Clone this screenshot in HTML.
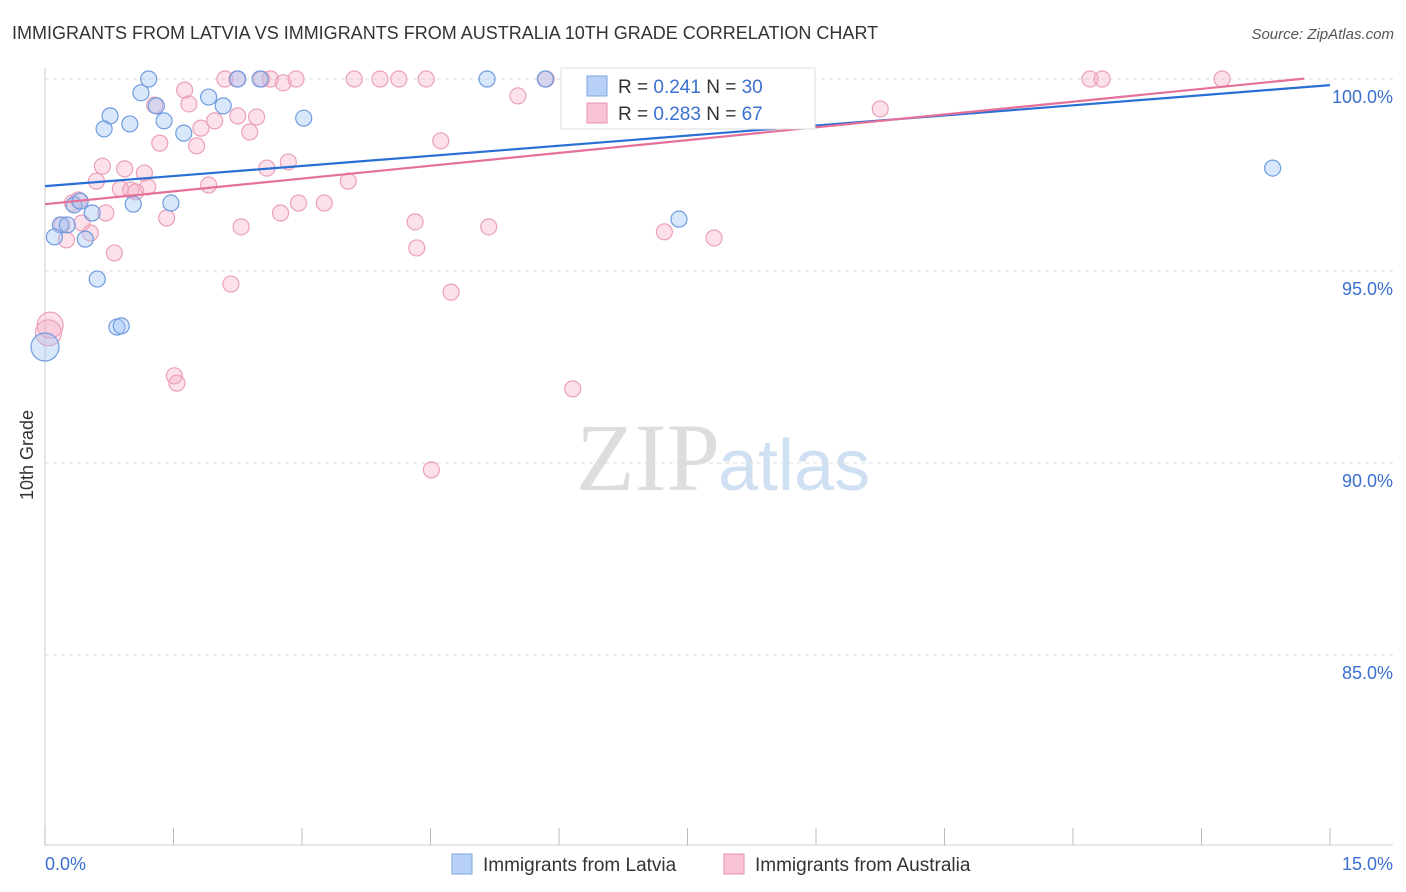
<!DOCTYPE html>
<html><head><meta charset="utf-8">
<style>
body{margin:0;background:#fff;font-family:"Liberation Sans",sans-serif;}
#wrap{position:relative;width:1406px;height:892px;overflow:hidden;}
</style></head>
<body>
<div id="wrap">
<svg id="svg" width="1406" height="892" xmlns="http://www.w3.org/2000/svg">
<text x="12" y="39" font-size="18" fill="#333">IMMIGRANTS FROM LATVIA VS IMMIGRANTS FROM AUSTRALIA 10TH GRADE CORRELATION CHART</text>
<text x="1394" y="39" font-size="15" fill="#555" text-anchor="end" font-style="italic">Source: ZipAtlas.com</text>
<text x="720" y="490" font-size="96" fill="#ddd" text-anchor="end" font-family="Liberation Serif">ZIP</text>
<text x="718" y="490" font-size="72" fill="#cfe0f3">atlas</text>
<text transform="translate(33,455) rotate(-90)" font-size="18" fill="#333" text-anchor="middle">10th Grade</text>
<g id="grid"></g><g id="pts"></g><g id="lines"></g>
<g>
<rect x="561" y="68" width="254" height="61" fill="#fff" stroke="#ddd"/>
<rect x="587" y="76" width="20" height="20" fill="#b8d0f5" stroke="#7ea6e0"/>
<text x="618" y="93" font-size="19" fill="#333">R = <tspan fill="#3b6fd0">0.241</tspan>   N = <tspan fill="#3b6fd0">30</tspan></text>
<rect x="587" y="103" width="20" height="20" fill="#f8c4d4" stroke="#e890ac"/>
<text x="618" y="120" font-size="19" fill="#333">R = <tspan fill="#3b6fd0">0.283</tspan>   N = <tspan fill="#3b6fd0">67</tspan></text>
</g>
<g>
<rect x="452" y="854" width="20" height="20" fill="#b8d0f5" stroke="#7ea6e0"/>
<text x="483" y="871" font-size="19" fill="#333">Immigrants from Latvia</text>
<rect x="724" y="854" width="20" height="20" fill="#f8c4d4" stroke="#e890ac"/>
<text x="755" y="871" font-size="19" fill="#333">Immigrants from Australia</text>
</g>
<text x="45" y="870" font-size="18" fill="#3b6fd0">0.0%</text>
<text x="1393" y="870" font-size="18" fill="#3b6fd0" text-anchor="end">15.0%</text>
</svg>
</div>
<script>
const yTicks=[100,95,90,85];
const yTickLabels=["100.0%","95.0%","90.0%","85.0%"];
const latviaX=[1.21,2.25,2.51,5.16,5.84,1.12,0.76,1.91,1.30,2.08,0.69,0.99,1.39,1.62,3.02,14.33,0.34,0.41,0.55,1.03,1.47,0.18,0.26,0.11,0.47,0.61,0.84,0.89,0,7.40];
const latviaY=[100,100,100,100,100,99.64,99.04,99.53,99.30,99.30,98.70,98.83,98.91,98.59,98.98,97.68,96.72,96.82,96.51,96.74,96.77,96.20,96.20,95.89,95.83,94.79,93.54,93.57,93.02,96.35];
const ausX=[2.10,2.24,2.53,2.63,2.78,2.93,3.61,3.91,4.13,4.45,5.85,6.25,12.20,12.34,13.74,1.63,1.68,1.28,5.52,2.47,2.25,1.98,1.82,2.39,1.34,1.77,4.62,9.75,6.88,0.67,0.93,1.16,2.59,2.84,0.60,3.54,1.91,0.88,1.20,1.00,1.06,0.39,0.32,0.71,2.96,3.26,2.75,1.42,4.32,0.53,0.25,2.29,5.18,7.23,7.81,4.34,0.81,2.17,4.74,0.06,0.04,1.51,1.54,6.16,4.51,0.20,0.43];
const ausY=[100,100,100,100,99.90,100,100,100,100,100,100,100,100,100,100,99.71,99.35,99.32,99.56,99.01,99.04,98.91,98.72,98.62,98.33,98.26,98.39,99.22,99.51,97.73,97.66,97.55,97.68,97.84,97.34,97.34,97.24,97.14,97.19,97.11,97.06,96.85,96.77,96.51,96.77,96.77,96.51,96.38,96.28,95.99,95.81,96.15,96.15,96.02,95.86,95.60,95.47,94.66,94.45,93.59,93.39,92.27,92.08,91.93,89.82,96.20,96.25];
const latviaTrend=[[0,97.21],[15,99.84]];
const ausTrend=[[0,96.74],[14.7,100.01]];
const NS="http://www.w3.org/2000/svg";
const sx=v=>45+v*85.667, sy=v=>79+(100-v)*38.4;
function mk(tag,attrs,parent){const e=document.createElementNS(NS,tag);for(const k in attrs)e.setAttribute(k,attrs[k]);parent.appendChild(e);return e;}
const grid=document.getElementById('grid');
yTicks.forEach((t,i)=>{
 const l=mk('line',{x1:45,x2:1393,y1:sy(t),y2:sy(t),stroke:'#ddd','stroke-dasharray':'4,4'},grid);
 
 
 const tx=mk('text',{x:1393,y:sy(t)+24,'font-size':18,fill:'#3b6fd0','text-anchor':'end'},grid);
 tx.textContent=yTickLabels[i];
 
 
});
mk('line',{x1:45,x2:45,y1:68,y2:845,stroke:'#ccc'},grid);
mk('line',{x1:45,x2:1393,y1:845,y2:845,stroke:'#ccc'},grid);
for(let i=0;i<=10;i++){const x=sx(i*1.5);const t=mk('line',{x1:x,x2:x,y1:828,y2:845,stroke:'#bbb'},grid);}
const pts=document.getElementById('pts');
ausX.forEach((x,i)=>{const big=x<0.1&&ausY[i]<94;
 const c=mk('circle',{cx:sx(x),cy:sy(ausY[i]),r:big?13:8,fill:'rgba(246,170,195,0.35)',stroke:'#eba0b8','stroke-width':1.2},pts);
 
 });
latviaX.forEach((x,i)=>{const big=x===0;
 const c=mk('circle',{cx:sx(x),cy:sy(latviaY[i]),r:big?14:8,fill:'rgba(160,195,245,0.4)',stroke:'#6f9be0','stroke-width':1.2},pts);
 
 });
const lines=document.getElementById('lines');
const bl=mk('line',{x1:sx(latviaTrend[0][0]),y1:sy(latviaTrend[0][1]),x2:sx(latviaTrend[1][0]),y2:sy(latviaTrend[1][1]),stroke:'#2a6fd6','stroke-width':2.2},lines);


const pl=mk('line',{x1:sx(ausTrend[0][0]),y1:sy(ausTrend[0][1]),x2:sx(ausTrend[1][0]),y2:sy(ausTrend[1][1]),stroke:'#e5709a','stroke-width':2.2},lines);


</script>
</body></html>
